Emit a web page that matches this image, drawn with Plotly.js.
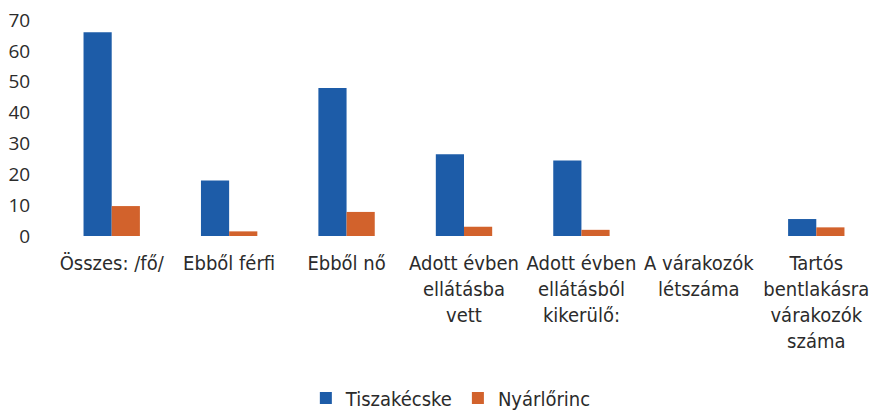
<!DOCTYPE html>
<html>
<head>
<meta charset="utf-8">
<script src="https://cdn.plot.ly/plotly-3.0.1.min.js"></script>
<style>html,body{margin:0;padding:0;background:#fff;}#chart{width:875px;height:412px;}</style>
</head>
<body>
<div id="chart"></div>
<script>
const categories = ["Összes: /fő/", "Ebből férfi", "Ebből nő", "Adott évben<br>ellátásba<br>vett", "Adott évben<br>ellátásból<br>kikerülő:", "A várakozók<br>létszáma", "Tartós<br>bentlakásra<br>várakozók<br>száma"];
const seriesNames = ["Tiszakécske", "Nyárlőrinc"];
const tiszakecske = [66, 18, 48, 26.5, 24.5, 0, 5.5];
const nyarlorinc = [9.7, 1.5, 7.8, 3, 2, 0, 2.8];
const yTicks = [0, 10, 20, 30, 40, 50, 60, 70];

const FONT = "'Liberation Sans Narrow', 'DejaVu Sans Condensed', 'Arial Narrow', sans-serif";
const colors = ["#1d5ca8", "#d2622c"];

const data = [
  {type: "bar", name: seriesNames[0], x: categories, y: tiszakecske, marker: {color: colors[0]}},
  {type: "bar", name: seriesNames[1], x: categories, y: nyarlorinc, marker: {color: colors[1]}}
];

const layout = {
  width: 875, height: 412,
  margin: {l: 53, r: 0, t: 20, b: 176, autoexpand: false},
  paper_bgcolor: "#fff", plot_bgcolor: "#fff",
  font: {family: FONT, size: 19, color: "#2b2b2b"},
  barmode: "group",
  bargap: 0.52,
  bargroupgap: 0,
  xaxis: {
    showgrid: false, zeroline: false, showline: false,
    ticks: "outside", ticklen: 9, tickcolor: "rgba(0,0,0,0)",
    tickangle: 0,
    tickfont: {family: FONT, size: 20, color: "#2b2b2b"}
  },
  yaxis: {
    range: [0, 70],
    tickvals: yTicks,
    showgrid: false, zeroline: false, showline: false,
    ticks: "outside", ticklen: 18, tickcolor: "rgba(0,0,0,0)",
    tickfont: {family: "'Open Sans', sans-serif", size: 19, color: "#2b2b2b"}
  },
  showlegend: true,
  legend: {
    orientation: "h", x: 0.484, xanchor: "center", y: -0.75, yanchor: "middle",
    font: {family: FONT, size: 20, color: "#2b2b2b"},
    traceorder: "normal"
  }
};

Plotly.newPlot("chart", data, layout, {displayModeBar: false, staticPlot: true});
</script>
</body>
</html>
